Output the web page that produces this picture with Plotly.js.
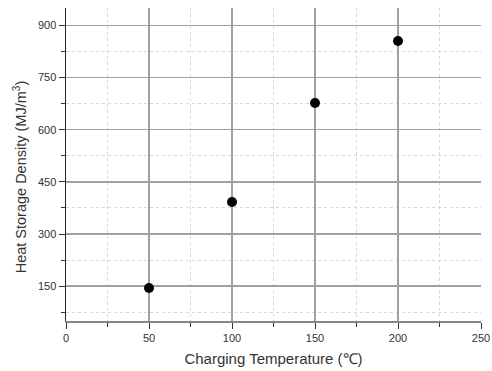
<!DOCTYPE html>
<html><head><meta charset="utf-8">
<script src="https://cdn.plot.ly/plotly-3.0.1.min.js"></script>
<style>body{margin:0;padding:0;background:#fff}</style>
</head><body>
<div id="chart" style="width:492px;height:371px"></div>
<script>
const temperature = [50, 100, 150, 200];
const density = [145, 392, 677, 855];
const xTickVals = [0, 50, 100, 150, 200, 250];
const yTickVals = [150, 300, 450, 600, 750, 900];

const trace = {
  x: temperature, y: density, type: 'scatter', mode: 'markers',
  marker: {color: '#000', size: 10}, showlegend: false
};
const layout = {
  width: 492, height: 371,
  margin: {l: 66, r: 11, t: 8, b: 50},
  paper_bgcolor: '#fff', plot_bgcolor: '#fff',
  font: {family: 'Liberation Sans, Arial, sans-serif', color: '#333'},
  xaxis: {
    range: [0, 250], tickvals: xTickVals, ticktext: xTickVals.map(String),
    showline: true, linecolor: '#888', linewidth: 2,
    ticks: 'outside', ticklen: 6, tickcolor: '#333', tickwidth: 1,
    showgrid: true, gridcolor: '#a0a0a0', gridwidth: 1.5,
    zeroline: false, tickfont: {size: 11, color: '#333'},
    minor: {dtick: 25, tick0: 0, ticks: 'outside', ticklen: 4, tickcolor: '#333',
            showgrid: true, gridcolor: '#d8d8d8', griddash: 'dot', gridwidth: 1},
    title: {text: 'Charging Temperature (℃)', font: {size: 15, color: '#333'}, standoff: 10}
  },
  yaxis: {
    range: [50, 950], tickvals: yTickVals, ticktext: yTickVals.map(String),
    showline: true, linecolor: '#222', linewidth: 1.5,
    ticks: 'outside', ticklen: 6, tickcolor: '#333', tickwidth: 1,
    showgrid: true, gridcolor: '#a0a0a0', gridwidth: 1.5,
    zeroline: false, tickfont: {size: 11, color: '#333'},
    minor: {dtick: 75, tick0: 0, ticks: 'outside', ticklen: 4, tickcolor: '#333',
            showgrid: true, gridcolor: '#d8d8d8', griddash: 'dot', gridwidth: 1}
  },
  annotations: [{
    text: 'Heat Storage Density (MJ/m<sup>3</sup>)', textangle: -90,
    xref: 'paper', yref: 'paper', x: -0.111, y: 0.462,
    xanchor: 'center', yanchor: 'middle', showarrow: false,
    font: {size: 14.5, color: '#333'}
  }]
};
Plotly.newPlot('chart', [trace], layout, {displayModeBar: false, staticPlot: true});
</script>
</body></html>
